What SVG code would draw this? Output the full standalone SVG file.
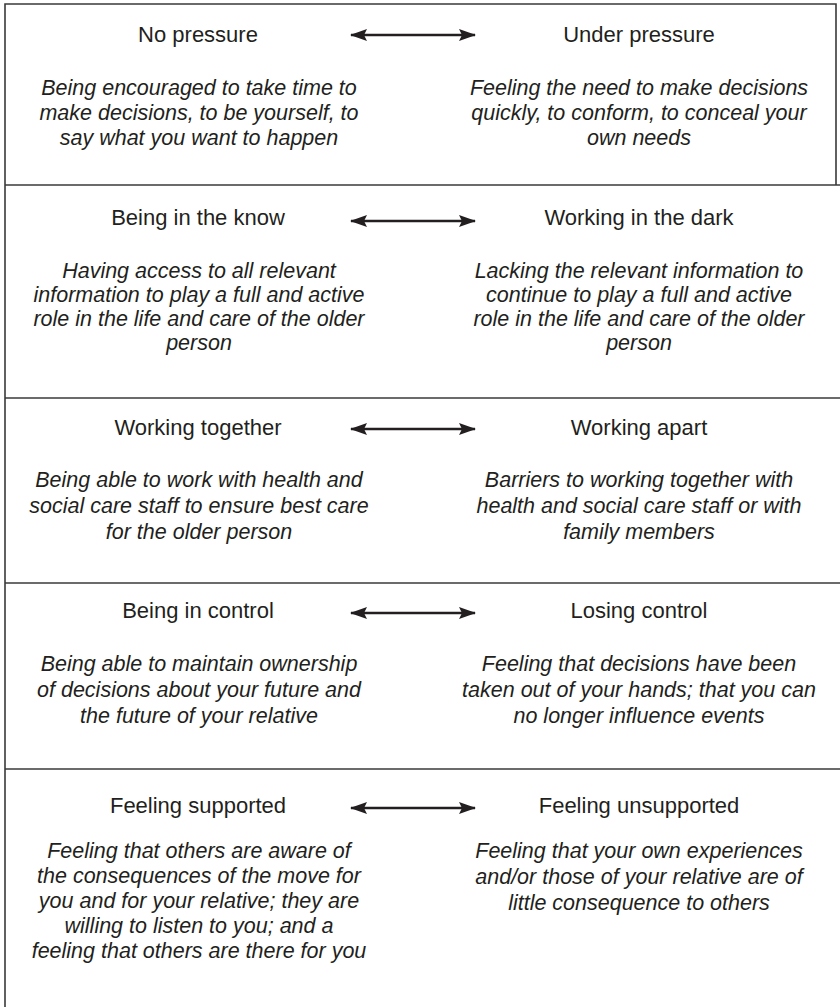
<svg xmlns="http://www.w3.org/2000/svg" width="840" height="1007" viewBox="0 0 840 1007">
<style>
.frame{stroke:#3a3a3a;stroke-width:1.6;fill:none}
.t{font-family:"Liberation Sans",Arial,sans-serif;font-size:22px;fill:#231f20;text-anchor:middle}
.d{font-family:"Liberation Sans",Arial,sans-serif;font-size:21.5px;font-style:italic;fill:#231f20;text-anchor:middle}
.arr{stroke:#231f20;stroke-width:2.6;fill:none;marker-start:url(#ah);marker-end:url(#ah)}
</style>
<defs>
<marker id="ah" viewBox="0 0 17 12" refX="16" refY="6" markerWidth="17" markerHeight="12" markerUnits="userSpaceOnUse" orient="auto-start-reverse">
<path d="M0,0 L17,6 L0,12 L3,6 Z" fill="#231f20"/>
</marker>
</defs>
<rect width="840" height="1007" fill="#ffffff"/>
<g id="frame">
<path class="frame" d="M5,1007 V4 H836 V185"/>
<line class="frame" x1="5" y1="185" x2="840" y2="185"/>
<line class="frame" x1="5" y1="398" x2="840" y2="398"/>
<line class="frame" x1="5" y1="583" x2="840" y2="583"/>
<line class="frame" x1="5" y1="769" x2="840" y2="769"/>
</g>
<g id="connectors">
<line class="arr" x1="351" y1="35" x2="475" y2="35"/>
<line class="arr" x1="351" y1="221" x2="475" y2="221"/>
<line class="arr" x1="351" y1="429" x2="475" y2="429"/>
<line class="arr" x1="351" y1="613" x2="475" y2="613"/>
<line class="arr" x1="351" y1="808" x2="475" y2="808"/>
</g>
<g id="no-pressure">
<text class="t" x="198" y="42">No pressure</text>
<text class="d" x="199" y="95">Being encouraged to take time to</text>
<text class="d" x="199" y="120">make decisions, to be yourself, to</text>
<text class="d" x="199" y="145">say what you want to happen</text>
</g>
<g id="under-pressure">
<text class="t" x="639" y="42">Under pressure</text>
<text class="d" x="639" y="95">Feeling the need to make decisions</text>
<text class="d" x="639" y="120">quickly, to conform, to conceal your</text>
<text class="d" x="639" y="145">own needs</text>
</g>
<g id="being-in-the-know">
<text class="t" x="198" y="225">Being in the know</text>
<text class="d" x="199" y="278">Having access to all relevant</text>
<text class="d" x="199" y="302">information to play a full and active</text>
<text class="d" x="199" y="326">role in the life and care of the older</text>
<text class="d" x="199" y="350">person</text>
</g>
<g id="working-in-the-dark">
<text class="t" x="639" y="225">Working in the dark</text>
<text class="d" x="639" y="278">Lacking the relevant information to</text>
<text class="d" x="639" y="302">continue to play a full and active</text>
<text class="d" x="639" y="326">role in the life and care of the older</text>
<text class="d" x="639" y="350">person</text>
</g>
<g id="working-together">
<text class="t" x="198" y="435">Working together</text>
<text class="d" x="199" y="487">Being able to work with health and</text>
<text class="d" x="199" y="513">social care staff to ensure best care</text>
<text class="d" x="199" y="539">for the older person</text>
</g>
<g id="working-apart">
<text class="t" x="639" y="435">Working apart</text>
<text class="d" x="639" y="487">Barriers to working together with</text>
<text class="d" x="639" y="513">health and social care staff or with</text>
<text class="d" x="639" y="539">family members</text>
</g>
<g id="being-in-control">
<text class="t" x="198" y="618">Being in control</text>
<text class="d" x="199" y="671">Being able to maintain ownership</text>
<text class="d" x="199" y="697">of decisions about your future and</text>
<text class="d" x="199" y="723">the future of your relative</text>
</g>
<g id="losing-control">
<text class="t" x="639" y="618">Losing control</text>
<text class="d" x="639" y="671">Feeling that decisions have been</text>
<text class="d" x="639" y="697">taken out of your hands; that you can</text>
<text class="d" x="639" y="723">no longer influence events</text>
</g>
<g id="feeling-supported">
<text class="t" x="198" y="813">Feeling supported</text>
<text class="d" x="199" y="858">Feeling that others are aware of</text>
<text class="d" x="199" y="883">the consequences of the move for</text>
<text class="d" x="199" y="908">you and for your relative; they are</text>
<text class="d" x="199" y="933">willing to listen to you; and a</text>
<text class="d" x="199" y="958">feeling that others are there for you</text>
</g>
<g id="feeling-unsupported">
<text class="t" x="639" y="813">Feeling unsupported</text>
<text class="d" x="639" y="858">Feeling that your own experiences</text>
<text class="d" x="639" y="884">and/or those of your relative are of</text>
<text class="d" x="639" y="910">little consequence to others</text>
</g>
</svg>
